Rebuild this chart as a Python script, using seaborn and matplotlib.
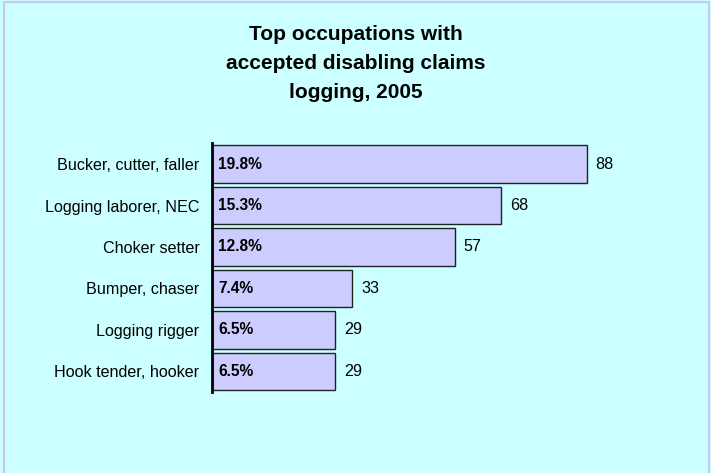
import pandas as pd
import seaborn as sns
import matplotlib.pyplot as plt
from matplotlib.patches import Rectangle

# chart data
occupations = ["Bucker, cutter, faller", "Logging laborer, NEC", "Choker setter",
               "Bumper, chaser", "Logging rigger", "Hook tender, hooker"]
claims = [88, 68, 57, 33, 29, 29]
percents = ["19.8%", "15.3%", "12.8%", "7.4%", "6.5%", "6.5%"]

df = pd.DataFrame({"occupation": occupations, "claims": claims})

plt.rcParams["font.family"] = ["Liberation Sans", "DejaVu Sans"]

fig = plt.figure(figsize=(7.11, 4.73), dpi=100)
fig.patch.set_facecolor("#CCFFFF")
fig.patches.append(Rectangle((0.005, -0.01), 0.992, 1.005, transform=fig.transFigure,
                             fill=False, edgecolor="#C8C8F0", linewidth=1.5))

ax = fig.add_axes([0.298, 0.171, 0.599, 0.526])
ax.set_facecolor("#CCFFFF")
sns.barplot(data=df, x="claims", y="occupation", orient="h", color="#CCCCFF",
            edgecolor="#222222", linewidth=1.0, width=0.9, saturation=1, ax=ax)

ax.set_xlim(0, 100)
ax.set_ylim(5.5, -0.5)
for s in ["top", "right", "bottom"]:
    ax.spines[s].set_visible(False)
ax.spines["left"].set_linewidth(2)
ax.set_xticks([])
ax.tick_params(axis="y", length=0, pad=9, labelsize=11.6)
ax.set_xlabel("")
ax.set_ylabel("")

for i, (c, p) in enumerate(zip(claims, percents)):
    ax.text(1.5, i, p, va="center", ha="left", fontsize=11.2, fontweight="bold")
    ax.text(c + 2, i, str(c), va="center", ha="left", fontsize=11.6)

fig.text(0.5, 0.948, "Top occupations with\naccepted disabling claims\nlogging, 2005",
         ha="center", va="top", fontsize=15, fontweight="bold", linespacing=1.68)

fig.savefig("out.png", dpi=100, facecolor=fig.get_facecolor())
